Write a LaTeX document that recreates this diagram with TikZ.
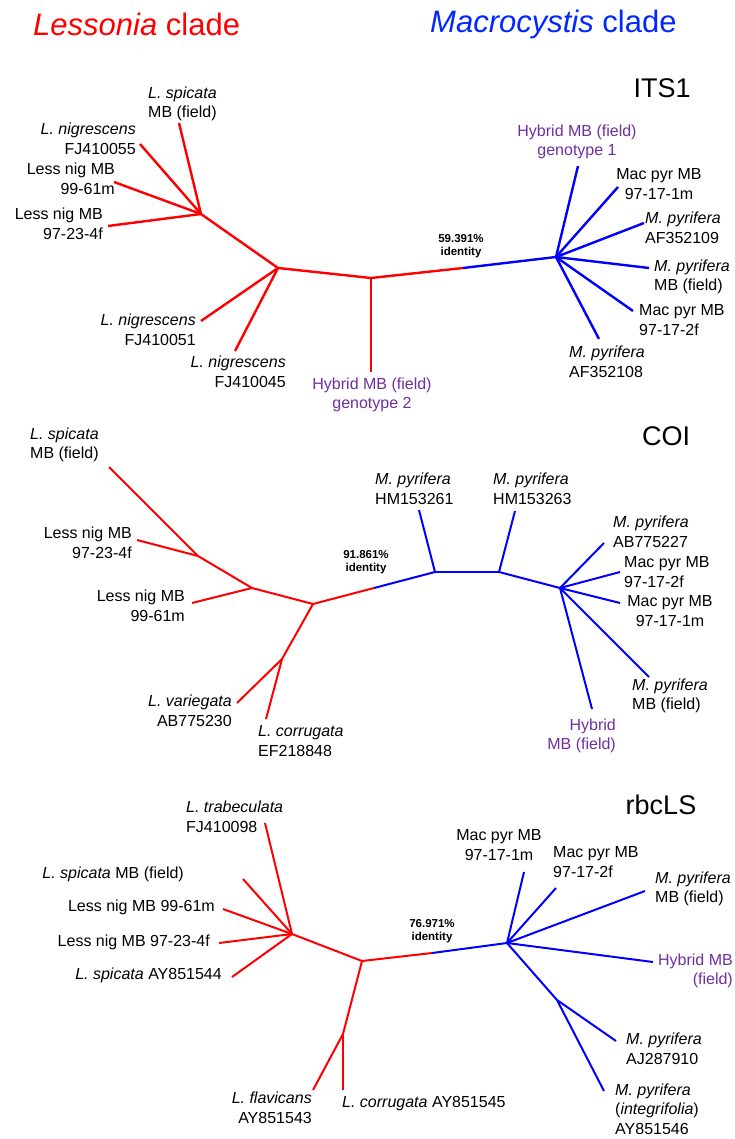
\documentclass[tikz,border=0pt]{standalone}
\usepackage{fontspec}
\setmainfont{Liberation Sans}
\definecolor{hybpurple}{RGB}{112,48,160}
\definecolor{macblue}{RGB}{0,40,255}
\definecolor{lnblue}{RGB}{0,0,255}
\definecolor{lnred}{RGB}{255,0,0}
\tikzset{
  lbl/.style={font=\fontsize{16}{19.5}\selectfont, inner sep=0pt},
  lal/.style={lbl, align=left},
  ral/.style={lbl, align=right},
  cal/.style={lbl, align=center},
  hyb/.style={text=hybpurple},
  idt/.style={font=\bfseries\fontsize{11.5}{13}\selectfont, align=center, inner sep=0pt},
  gene/.style={font=\fontsize{27}{30}\selectfont, inner sep=0pt},
  rthick/.style={draw=lnred, line width=2.4pt},
  bthick/.style={draw=lnblue, line width=2.4pt},
  rthin/.style={draw=lnred, line width=2pt},
  bthin/.style={draw=lnblue, line width=2pt},
}
\begin{document}
\begin{tikzpicture}[x=1pt,y=-1pt]
\useasboundingbox (0,0) rectangle (734,1139);
\fill[white] (0,0) rectangle (734,1139);

% headers
\node[anchor=base west, inner sep=0pt, font=\fontsize{31}{34}\selectfont, text=lnred] (hl) at (33,36) {\textit{Lessonia} clade};
\node[anchor=base west, inner sep=0pt, font=\fontsize{31}{34}\selectfont, text=macblue] (hm) at (430,33) {\textit{Macrocystis} clade};

% ================= ITS1 =================
\node[gene] (its) at (662,88) {ITS1};
\coordinate (A1) at (201,214);
\coordinate (B1) at (278,268);
\coordinate (C1) at (371,278);
\coordinate (T1) at (463,268);
\coordinate (D1) at (556,257);
\coordinate (a1s) at (179,123);
\coordinate (a1n) at (140,144);
\coordinate (a1l) at (114,182);
\coordinate (a1k) at (108,226);
\coordinate (b1a) at (201,321);
\coordinate (b1b) at (235,351);
\coordinate (c1h) at (371,372);
\coordinate (d1a) at (578,166);
\coordinate (d1b) at (618,187);
\coordinate (d1c) at (644,223);
\coordinate (d1d) at (649,268);
\coordinate (d1e) at (633,311);
\coordinate (d1f) at (599,339);
\draw[rthick] (A1) -- (a1s);
\draw[rthick] (A1) -- (a1n);
\draw[rthick] (A1) -- (a1l);
\draw[rthick] (A1) -- (a1k);
\draw[rthick] (A1) -- (B1);
\draw[rthick] (B1) -- (b1a);
\draw[rthick] (B1) -- (b1b);
\draw[rthick] (B1) -- (C1);
\draw[rthick] (C1) -- (c1h);
\draw[rthick] (C1) -- (T1);
\draw[bthick] (T1) -- (D1);
\draw[bthick] (D1) -- (d1a);
\draw[bthick] (D1) -- (d1b);
\draw[bthick] (D1) -- (d1c);
\draw[bthick] (D1) -- (d1d);
\draw[bthick] (D1) -- (d1e);
\draw[bthick] (D1) -- (d1f);

\node[lal, anchor=west] (l1a) at (148,104) {\textit{L. spicata}\\MB (field)};
\node[ral, anchor=east] (l1b) at (136,139) {\textit{L. nigrescens}\\FJ410055};
\node[ral, anchor=east] (l1c) at (115,179) {Less nig MB\\99-61m};
\node[ral, anchor=east] (l1d) at (103,224) {Less nig MB\\97-23-4f};
\node[ral, anchor=east] (l1e) at (196,330) {\textit{L. nigrescens}\\FJ410051};
\node[ral, anchor=east] (l1f) at (286,372) {\textit{L. nigrescens}\\FJ410045};
\node[cal, hyb] (l1g) at (372,395) {Hybrid MB (field)\\genotype 2};
\node[cal, hyb] (l1h) at (577,142) {Hybrid MB (field)\\genotype 1};
\node[cal] (l1i) at (659,184) {Mac pyr MB\\97-17-1m};
\node[lal, anchor=west] (l1j) at (645,228) {\textit{M. pyrifera}\\AF352109};
\node[lal, anchor=west] (l1k) at (654,277) {\textit{M. pyrifera}\\MB (field)};
\node[lal, anchor=west] (l1l) at (639,320) {Mac pyr MB\\97-17-2f};
\node[lal, anchor=west] (l1m) at (569,362) {\textit{M. pyrifera}\\AF352108};
\node[idt] (id1) at (461,246) {59.391\%\\identity};

% ================= COI =================
\node[gene] (coi) at (666,436) {COI};
\coordinate (E2) at (198,556);
\coordinate (F2) at (252,588);
\coordinate (G2) at (313,604);
\coordinate (H2) at (282,659);
\coordinate (T2) at (374,588);
\coordinate (I2) at (435,572);
\coordinate (J2) at (499,572);
\coordinate (K2) at (560,588);
\coordinate (e2a) at (109,467);
\coordinate (e2b) at (137,540);
\coordinate (f2a) at (192,603);
\coordinate (h2a) at (237,703);
\coordinate (h2b) at (266,719);
\coordinate (i2a) at (419,510);
\coordinate (j2a) at (515,511);
\coordinate (k2a) at (604,543);
\coordinate (k2b) at (620,572);
\coordinate (k2c) at (620,603);
\coordinate (k2d) at (649,677);
\coordinate (k2e) at (592,709);
\draw[rthin] (E2) -- (e2a);
\draw[rthin] (E2) -- (e2b);
\draw[rthin] (E2) -- (F2);
\draw[rthin] (F2) -- (f2a);
\draw[rthin] (F2) -- (G2);
\draw[rthin] (G2) -- (H2);
\draw[rthin] (H2) -- (h2a);
\draw[rthin] (H2) -- (h2b);
\draw[rthin] (G2) -- (T2);
\draw[bthin] (T2) -- (I2);
\draw[bthin] (I2) -- (i2a);
\draw[bthin] (I2) -- (J2);
\draw[bthin] (J2) -- (j2a);
\draw[bthin] (J2) -- (K2);
\draw[bthin] (K2) -- (k2a);
\draw[bthin] (K2) -- (k2b);
\draw[bthin] (K2) -- (k2c);
\draw[bthin] (K2) -- (k2d);
\draw[bthin] (K2) -- (k2e);

\node[lal, anchor=west] (l2a) at (30,445) {\textit{L. spicata}\\MB (field)};
\node[ral, anchor=east] (l2b) at (132,543) {Less nig MB\\97-23-4f};
\node[ral, anchor=east] (l2c) at (185,606) {Less nig MB\\99-61m};
\node[ral, anchor=east] (l2d) at (232,711) {\textit{L. variegata}\\AB775230};
\node[lal, anchor=west] (l2e) at (258,741) {\textit{L. corrugata}\\EF218848};
\node[lal, anchor=west] (l2f) at (375,489) {\textit{M. pyrifera}\\HM153261};
\node[lal, anchor=west] (l2g) at (493,489) {\textit{M. pyrifera}\\HM153263};
\node[lal, anchor=west] (l2h) at (613,532) {\textit{M. pyrifera}\\AB775227};
\node[lal, anchor=west] (l2i) at (624,572) {Mac pyr MB\\97-17-2f};
\node[cal] (l2j) at (670,611) {Mac pyr MB\\97-17-1m};
\node[lal, anchor=west] (l2k) at (632,696) {\textit{M. pyrifera}\\MB (field)};
\node[ral, hyb, anchor=east] (l2l) at (616,736) {Hybrid\\MB (field)};
\node[idt] (id2) at (366,562) {91.861\%\\identity};

% ================= rbcLS =================
\node[gene] (rbc) at (661,805) {rbcLS};
\coordinate (L3) at (292,934);
\coordinate (M3) at (362,961);
\coordinate (N3) at (343,1034);
\coordinate (T3) at (432,953);
\coordinate (O3) at (507,943);
\coordinate (P3) at (557,1000);
\coordinate (l3a) at (265,823);
\coordinate (l3b) at (243,879);
\coordinate (l3c) at (223,909);
\coordinate (l3d) at (219,943);
\coordinate (l3e) at (232,977);
\coordinate (n3a) at (313,1090);
\coordinate (n3b) at (343,1090);
\coordinate (o3a) at (524,872);
\coordinate (o3b) at (556,888);
\coordinate (o3c) at (645,891);
\coordinate (o3d) at (653,962);
\coordinate (p3a) at (616,1041);
\coordinate (p3b) at (604,1091);
\draw[rthin] (L3) -- (l3a);
\draw[rthin] (L3) -- (l3b);
\draw[rthin] (L3) -- (l3c);
\draw[rthin] (L3) -- (l3d);
\draw[rthin] (L3) -- (l3e);
\draw[rthin] (L3) -- (M3);
\draw[rthin] (M3) -- (N3);
\draw[rthin] (N3) -- (n3a);
\draw[rthin] (N3) -- (n3b);
\draw[rthin] (M3) -- (T3);
\draw[bthin] (T3) -- (O3);
\draw[bthin] (O3) -- (o3a);
\draw[bthin] (O3) -- (o3b);
\draw[bthin] (O3) -- (o3c);
\draw[bthin] (O3) -- (o3d);
\draw[bthin] (O3) -- (P3);
\draw[bthin] (P3) -- (p3a);
\draw[bthin] (P3) -- (p3b);

\node[lal, anchor=west] (l3ta) at (186,817) {\textit{L. trabeculata}\\FJ410098};
\node[lbl, anchor=east] (l3tb) at (184,874) {\textit{L. spicata} MB (field)};
\node[lbl, anchor=east] (l3tc) at (215,907) {Less nig MB 99-61m};
\node[lbl, anchor=east] (l3td) at (210,942) {Less nig MB 97-23-4f};
\node[lbl, anchor=east] (l3te) at (222,975) {\textit{L. spicata} AY851544};
\node[ral, anchor=east] (l3tf) at (312,1108) {\textit{L. flavicans}\\AY851543};
\node[lbl, anchor=west] (l3tg) at (342,1104) {\textit{L. corrugata} AY851545};
\node[cal] (l3th) at (499,845) {Mac pyr MB\\97-17-1m};
\node[lal, anchor=west] (l3ti) at (553,862) {Mac pyr MB\\97-17-2f};
\node[lal, anchor=west] (l3tj) at (655,889) {\textit{M. pyrifera}\\MB (field)};
\node[ral, hyb, anchor=east] (l3tk) at (733,971) {Hybrid MB\\(field)};
\node[lal, anchor=west] (l3tl) at (626,1049) {\textit{M. pyrifera}\\AJ287910};
\node[lal, anchor=west] (l3tm) at (615,1109) {\textit{M. pyrifera}\\(\textit{integrifolia})\\AY851546};
\node[idt] (id3) at (432,931) {76.971\%\\identity};
\end{tikzpicture}
\end{document}
